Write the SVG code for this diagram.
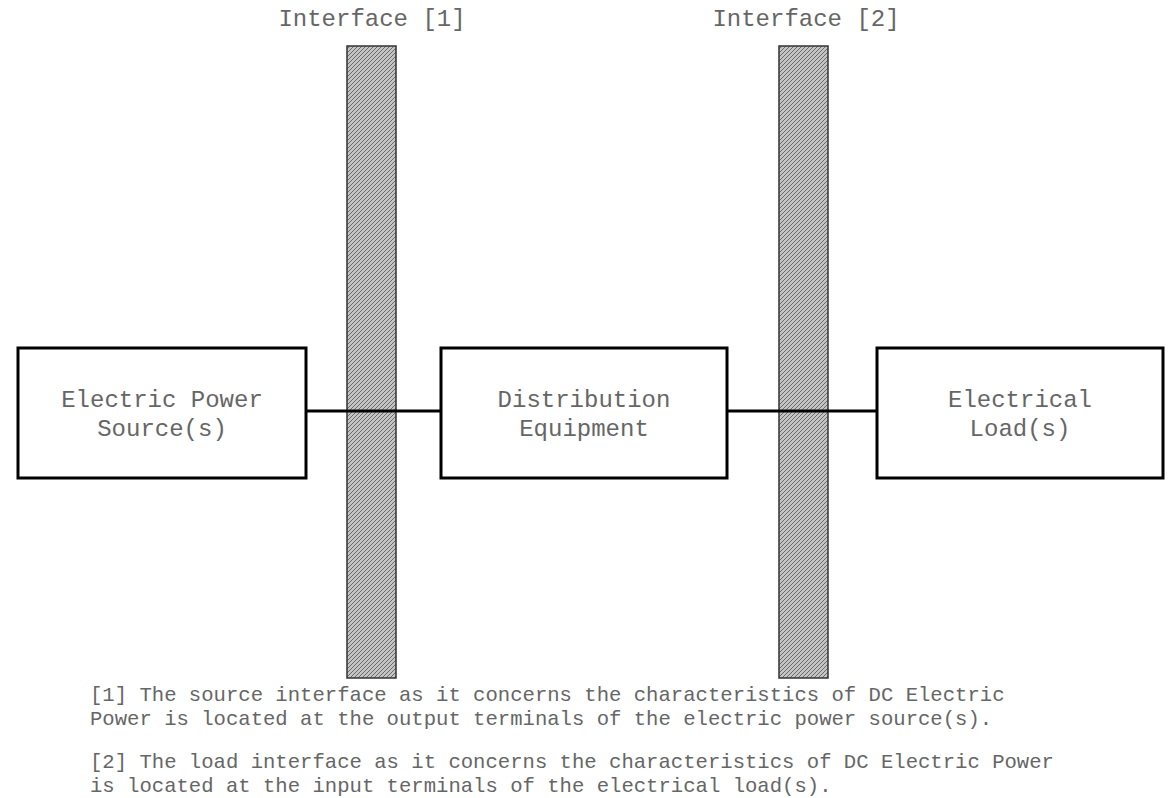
<svg xmlns="http://www.w3.org/2000/svg" width="1173" height="798" viewBox="0 0 1173 798">
<style>
.t{font-family:"Liberation Mono","Courier New",monospace;fill:#666;}
.lbl{font-size:24px;}
.note{font-size:20.6px;}
.box{fill:#fff;stroke:#000;stroke-width:3;}
.bar{fill:url(#hatch);stroke:#333;stroke-width:1.5;}
.wire{stroke:#000;stroke-width:3;fill:none;}
</style>
<defs>
<pattern id="hatch" width="4" height="4" patternUnits="userSpaceOnUse">
<rect width="4" height="4" fill="#c4c4c4"/>
<path d="M-1,1 L1,-1 M0,4 L4,0 M3,5 L5,3" stroke="#6a6a6a" stroke-width="1"/>
</pattern>
</defs>
<g id="interface1">
<rect class="bar" x="347" y="46" width="49" height="632"/>
<text class="t lbl" x="372" y="26" text-anchor="middle">Interface [1]</text>
</g>
<g id="interface2">
<rect class="bar" x="779" y="46" width="49" height="632"/>
<text class="t lbl" x="806" y="26" text-anchor="middle">Interface [2]</text>
</g>
<g id="connectors">
<line class="wire" x1="306" y1="411" x2="441" y2="411"/>
<line class="wire" x1="727" y1="411" x2="877" y2="411"/>
</g>
<g id="source">
<rect class="box" x="18" y="348" width="288" height="130"/>
<text class="t lbl" x="162" y="407" text-anchor="middle">Electric Power</text>
<text class="t lbl" x="162" y="436" text-anchor="middle">Source(s)</text>
</g>
<g id="distribution">
<rect class="box" x="441" y="348" width="286" height="130"/>
<text class="t lbl" x="584" y="407" text-anchor="middle">Distribution</text>
<text class="t lbl" x="584" y="436" text-anchor="middle">Equipment</text>
</g>
<g id="load">
<rect class="box" x="877" y="348" width="286" height="130"/>
<text class="t lbl" x="1020" y="407" text-anchor="middle">Electrical</text>
<text class="t lbl" x="1020" y="436" text-anchor="middle">Load(s)</text>
</g>
<g id="notes">
<text class="t note" x="90" y="701">[1] The source interface as it concerns the characteristics of DC Electric</text>
<text class="t note" x="90" y="725">Power is located at the output terminals of the electric power source(s).</text>
<text class="t note" x="90" y="768">[2] The load interface as it concerns the characteristics of DC Electric Power</text>
<text class="t note" x="90" y="792">is located at the input terminals of the electrical load(s).</text>
</g>
</svg>
